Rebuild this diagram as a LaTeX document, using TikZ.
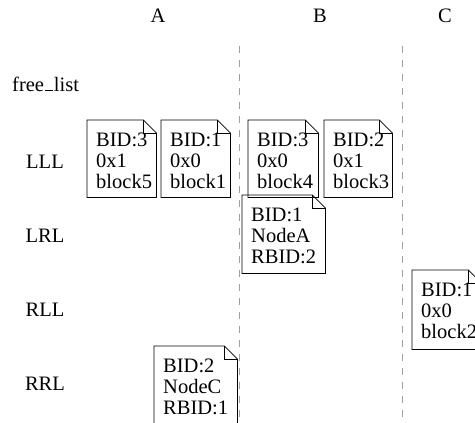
\documentclass[tikz,border=0pt]{standalone}
\usepackage{fontspec}
\setmainfont{Liberation Serif}
\definecolor{sepgray}{RGB}{160,160,160}
\newcommand\lowbar{\leavevmode\kern0.04em\vbox{\hrule width 0.4em height 0.05em}\kern0.04em}
\newcommand\docnode[6]{% name, x, y (top-left), width, height, text
  \node[docshape, minimum width=#4pt, minimum height=#5pt, anchor=north west] (#1) at (#2,#3) {};
  \draw[docline] (#1.north west) -- ([xshift=-13pt]#1.north east) -- ([yshift=-13pt]#1.north east) -- (#1.south east) -- (#1.south west) -- cycle;
  \draw[docline] ([xshift=-13pt]#1.north east) |- ([yshift=-13pt]#1.north east);
  \node[doctext, anchor=north west] (#1-text) at ([xshift=9pt,yshift=-13pt]#1.north west) {#6};
}
\begin{document}
\begin{tikzpicture}[x=1pt,y=-1pt,
  lbl/.style={font=\fontsize{20.5}{21}\selectfont, inner sep=0pt},
  docshape/.style={draw=none, inner sep=0pt, rectangle},
  docline/.style={draw=black, line width=0.8pt, line join=miter},
  doctext/.style={font=\fontsize{20.5}{21}\selectfont, align=left, inner sep=0pt},
  sep/.style={draw=sepgray, line width=0.8pt, dash pattern=on 7pt off 7pt}]
\useasboundingbox (0,0) rectangle (475,423);
% column headers
\node[lbl, anchor=base] (colA) at (158,23) {A};
\node[lbl, anchor=base] (colB) at (320,23) {B};
\node[lbl, anchor=base] (colC) at (445,23) {C};
% separators
\coordinate (s1t) at (239,46);
\coordinate (s1b) at (239,423);
\coordinate (s2t) at (402,46);
\coordinate (s2b) at (402,423);
\draw[sep] (s1t) -- (s1b);
\draw[sep] (s2t) -- (s2b);
% row labels
\node[lbl, anchor=base west] (rfree) at (12,91) {free\lowbar list};
\node[lbl, anchor=base] (rLLL) at (45,168) {LLL};
\node[lbl, anchor=base] (rLRL) at (45,242) {LRL};
\node[lbl, anchor=base] (rRLL) at (45,316) {RLL};
\node[lbl, anchor=base] (rRRL) at (45,390) {RRL};
% blocks
\docnode{b1}{87}{120}{69}{77}{BID:3\\0x1\\block5}
\docnode{b2}{161}{120}{69}{77}{BID:1\\0x0\\block1}
\docnode{b3}{248}{120}{70}{77}{BID:3\\0x0\\block4}
\docnode{b4}{324}{120}{68}{77}{BID:2\\0x1\\block3}
\docnode{b5}{242}{195}{83}{78}{BID:1\\NodeA\\RBID:2}
\docnode{b6}{412}{270}{69}{79}{BID:1\\0x0\\block2}
\docnode{b7}{154}{346}{83}{79}{BID:2\\NodeC\\RBID:1}
\end{tikzpicture}
\end{document}
